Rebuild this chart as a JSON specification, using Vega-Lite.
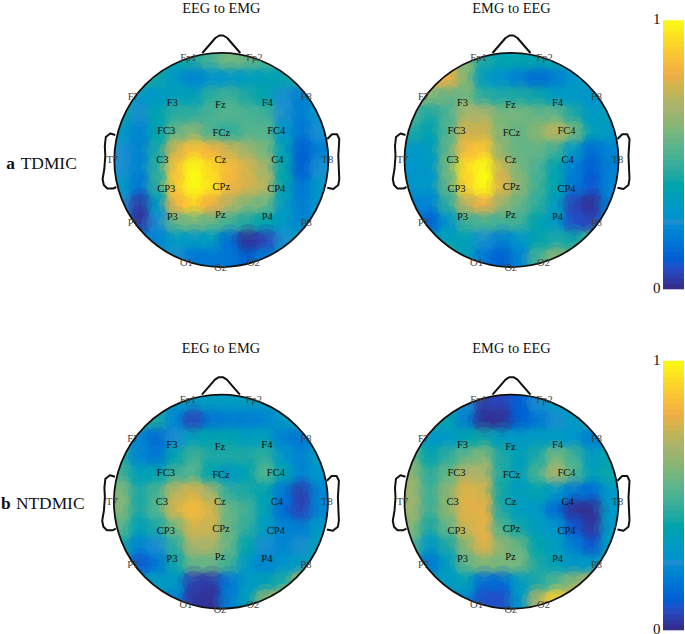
{"$schema":"https://vega.github.io/schema/vega-lite/v6.json","padding":0,"background":"white","config":{"view":{"stroke":null}},"columns":3,"bounds":"flush","spacing":{"row":40,"column":31.5},
"datasets":{
"a1":[{"x":-63,"y":99,"v":0.4},{"x":-45,"y":99,"v":0.38},{"x":-27,"y":99,"v":0.42},{"x":-9,"y":99,"v":0.5},{"x":9,"y":99,"v":0.58},{"x":27,"y":99,"v":0.55},{"x":45,"y":99,"v":0.5},{"x":63,"y":99,"v":0.5},
{"x":-81,"y":81,"v":0.45},{"x":-63,"y":81,"v":0.4},{"x":-45,"y":81,"v":0.3},{"x":-27,"y":81,"v":0.22},{"x":-9,"y":81,"v":0.27},{"x":9,"y":81,"v":0.3},{"x":27,"y":81,"v":0.33},{"x":45,"y":81,"v":0.35},{"x":63,"y":81,"v":0.38},{"x":81,"y":81,"v":0.45},
{"x":-99,"y":63,"v":0.45},{"x":-81,"y":63,"v":0.3},{"x":-63,"y":63,"v":0.3},{"x":-45,"y":63,"v":0.35},{"x":-27,"y":63,"v":0.35},{"x":-9,"y":63,"v":0.45},{"x":9,"y":63,"v":0.48},{"x":27,"y":63,"v":0.42},{"x":45,"y":63,"v":0.38},{"x":63,"y":63,"v":0.25},{"x":81,"y":63,"v":0.2},{"x":99,"y":63,"v":0.35},
{"x":-99,"y":45,"v":0.38},{"x":-81,"y":45,"v":0.25},{"x":-63,"y":45,"v":0.38},{"x":-45,"y":45,"v":0.45},{"x":-27,"y":45,"v":0.45},{"x":-9,"y":45,"v":0.5},{"x":9,"y":45,"v":0.52},{"x":27,"y":45,"v":0.5},{"x":45,"y":45,"v":0.48},{"x":63,"y":45,"v":0.25},{"x":81,"y":45,"v":0.2},{"x":99,"y":45,"v":0.3},
{"x":-99,"y":27,"v":0.3},{"x":-81,"y":27,"v":0.22},{"x":-63,"y":27,"v":0.38},{"x":-45,"y":27,"v":0.55},{"x":-27,"y":27,"v":0.62},{"x":-9,"y":27,"v":0.5},{"x":9,"y":27,"v":0.45},{"x":27,"y":27,"v":0.52},{"x":45,"y":27,"v":0.52},{"x":63,"y":27,"v":0.3},{"x":81,"y":27,"v":0.18},{"x":99,"y":27,"v":0.25},
{"x":-99,"y":9,"v":0.25},{"x":-81,"y":9,"v":0.22},{"x":-63,"y":9,"v":0.42},{"x":-45,"y":9,"v":0.76},{"x":-27,"y":9,"v":0.86},{"x":-9,"y":9,"v":0.82},{"x":9,"y":9,"v":0.74},{"x":27,"y":9,"v":0.66},{"x":45,"y":9,"v":0.58},{"x":63,"y":9,"v":0.35},{"x":81,"y":9,"v":0.12},{"x":99,"y":9,"v":0.2},
{"x":-99,"y":-9,"v":0.25},{"x":-81,"y":-9,"v":0.22},{"x":-63,"y":-9,"v":0.45},{"x":-45,"y":-9,"v":0.86},{"x":-27,"y":-9,"v":1},{"x":-9,"y":-9,"v":0.92},{"x":9,"y":-9,"v":0.84},{"x":27,"y":-9,"v":0.76},{"x":45,"y":-9,"v":0.66},{"x":63,"y":-9,"v":0.38},{"x":81,"y":-9,"v":0.12},{"x":99,"y":-9,"v":0.25},
{"x":-99,"y":-27,"v":0.3},{"x":-81,"y":-27,"v":0.18},{"x":-63,"y":-27,"v":0.45},{"x":-45,"y":-27,"v":0.88},{"x":-27,"y":-27,"v":1},{"x":-9,"y":-27,"v":0.94},{"x":9,"y":-27,"v":0.82},{"x":27,"y":-27,"v":0.76},{"x":45,"y":-27,"v":0.7},{"x":63,"y":-27,"v":0.38},{"x":81,"y":-27,"v":0.18},{"x":99,"y":-27,"v":0.3},
{"x":-99,"y":-45,"v":0.25},{"x":-81,"y":-45,"v":0.04},{"x":-63,"y":-45,"v":0.32},{"x":-45,"y":-45,"v":0.82},{"x":-27,"y":-45,"v":0.9},{"x":-9,"y":-45,"v":0.8},{"x":9,"y":-45,"v":0.7},{"x":27,"y":-45,"v":0.6},{"x":45,"y":-45,"v":0.56},{"x":63,"y":-45,"v":0.32},{"x":81,"y":-45,"v":0.2},{"x":99,"y":-45,"v":0.28},
{"x":-99,"y":-63,"v":0.15},{"x":-81,"y":-63,"v":0.03},{"x":-63,"y":-63,"v":0.25},{"x":-45,"y":-63,"v":0.55},{"x":-27,"y":-63,"v":0.58},{"x":-9,"y":-63,"v":0.55},{"x":9,"y":-63,"v":0.48},{"x":27,"y":-63,"v":0.42},{"x":45,"y":-63,"v":0.38},{"x":63,"y":-63,"v":0.3},{"x":81,"y":-63,"v":0.22},{"x":99,"y":-63,"v":0.3},
{"x":-81,"y":-81,"v":0.22},{"x":-63,"y":-81,"v":0.22},{"x":-45,"y":-81,"v":0.32},{"x":-27,"y":-81,"v":0.3},{"x":-9,"y":-81,"v":0.32},{"x":9,"y":-81,"v":0.15},{"x":27,"y":-81,"v":0.02},{"x":45,"y":-81,"v":0.06},{"x":63,"y":-81,"v":0.25},{"x":81,"y":-81,"v":0.35},
{"x":-63,"y":-99,"v":0.3},{"x":-45,"y":-99,"v":0.25},{"x":-27,"y":-99,"v":0.18},{"x":-9,"y":-99,"v":0.18},{"x":9,"y":-99,"v":0.18},{"x":27,"y":-99,"v":0.12},{"x":45,"y":-99,"v":0.2},{"x":63,"y":-99,"v":0.3}],
"a2":[{"x":-63,"y":99,"v":0.78},{"x":-45,"y":99,"v":0.6},{"x":-27,"y":99,"v":0.42},{"x":-9,"y":99,"v":0.38},{"x":9,"y":99,"v":0.38},{"x":27,"y":99,"v":0.38},{"x":45,"y":99,"v":0.38},{"x":63,"y":99,"v":0.4},
{"x":-81,"y":81,"v":0.8},{"x":-63,"y":81,"v":0.8},{"x":-45,"y":81,"v":0.6},{"x":-27,"y":81,"v":0.32},{"x":-9,"y":81,"v":0.27},{"x":9,"y":81,"v":0.2},{"x":27,"y":81,"v":0.15},{"x":45,"y":81,"v":0.2},{"x":63,"y":81,"v":0.28},{"x":81,"y":81,"v":0.35},
{"x":-99,"y":63,"v":0.65},{"x":-81,"y":63,"v":0.6},{"x":-63,"y":63,"v":0.55},{"x":-45,"y":63,"v":0.58},{"x":-27,"y":63,"v":0.45},{"x":-9,"y":63,"v":0.42},{"x":9,"y":63,"v":0.42},{"x":27,"y":63,"v":0.4},{"x":45,"y":63,"v":0.32},{"x":63,"y":63,"v":0.3},{"x":81,"y":63,"v":0.28},{"x":99,"y":63,"v":0.3},
{"x":-99,"y":45,"v":0.5},{"x":-81,"y":45,"v":0.42},{"x":-63,"y":45,"v":0.5},{"x":-45,"y":45,"v":0.68},{"x":-27,"y":45,"v":0.68},{"x":-9,"y":45,"v":0.58},{"x":9,"y":45,"v":0.58},{"x":27,"y":45,"v":0.55},{"x":45,"y":45,"v":0.55},{"x":63,"y":45,"v":0.42},{"x":81,"y":45,"v":0.3},{"x":99,"y":45,"v":0.35},
{"x":-99,"y":27,"v":0.42},{"x":-81,"y":27,"v":0.38},{"x":-63,"y":27,"v":0.52},{"x":-45,"y":27,"v":0.75},{"x":-27,"y":27,"v":0.75},{"x":-9,"y":27,"v":0.6},{"x":9,"y":27,"v":0.55},{"x":27,"y":27,"v":0.62},{"x":45,"y":27,"v":0.72},{"x":63,"y":27,"v":0.6},{"x":81,"y":27,"v":0.35},{"x":99,"y":27,"v":0.3},
{"x":-99,"y":9,"v":0.3},{"x":-81,"y":9,"v":0.32},{"x":-63,"y":9,"v":0.55},{"x":-45,"y":9,"v":0.84},{"x":-27,"y":9,"v":0.88},{"x":-9,"y":9,"v":0.62},{"x":9,"y":9,"v":0.55},{"x":27,"y":9,"v":0.55},{"x":45,"y":9,"v":0.48},{"x":63,"y":9,"v":0.3},{"x":81,"y":9,"v":0.15},{"x":99,"y":9,"v":0.22},
{"x":-99,"y":-9,"v":0.28},{"x":-81,"y":-9,"v":0.3},{"x":-63,"y":-9,"v":0.58},{"x":-45,"y":-9,"v":0.93},{"x":-27,"y":-9,"v":1},{"x":-9,"y":-9,"v":0.74},{"x":9,"y":-9,"v":0.58},{"x":27,"y":-9,"v":0.5},{"x":45,"y":-9,"v":0.38},{"x":63,"y":-9,"v":0.2},{"x":81,"y":-9,"v":0.12},{"x":99,"y":-9,"v":0.2},
{"x":-99,"y":-27,"v":0.28},{"x":-81,"y":-27,"v":0.3},{"x":-63,"y":-27,"v":0.55},{"x":-45,"y":-27,"v":0.9},{"x":-27,"y":-27,"v":1},{"x":-9,"y":-27,"v":0.77},{"x":9,"y":-27,"v":0.62},{"x":27,"y":-27,"v":0.48},{"x":45,"y":-27,"v":0.38},{"x":63,"y":-27,"v":0.18},{"x":81,"y":-27,"v":0.1},{"x":99,"y":-27,"v":0.22},
{"x":-99,"y":-45,"v":0.22},{"x":-81,"y":-45,"v":0.22},{"x":-63,"y":-45,"v":0.45},{"x":-45,"y":-45,"v":0.72},{"x":-27,"y":-45,"v":0.8},{"x":-9,"y":-45,"v":0.65},{"x":9,"y":-45,"v":0.55},{"x":27,"y":-45,"v":0.45},{"x":45,"y":-45,"v":0.32},{"x":63,"y":-45,"v":0.06},{"x":81,"y":-45,"v":0.02},{"x":99,"y":-45,"v":0.2},
{"x":-99,"y":-63,"v":0.2},{"x":-81,"y":-63,"v":0.12},{"x":-63,"y":-63,"v":0.28},{"x":-45,"y":-63,"v":0.48},{"x":-27,"y":-63,"v":0.5},{"x":-9,"y":-63,"v":0.48},{"x":9,"y":-63,"v":0.48},{"x":27,"y":-63,"v":0.38},{"x":45,"y":-63,"v":0.3},{"x":63,"y":-63,"v":0.08},{"x":81,"y":-63,"v":0.06},{"x":99,"y":-63,"v":0.25},
{"x":-81,"y":-81,"v":0.3},{"x":-63,"y":-81,"v":0.35},{"x":-45,"y":-81,"v":0.35},{"x":-27,"y":-81,"v":0.25},{"x":-9,"y":-81,"v":0.2},{"x":9,"y":-81,"v":0.28},{"x":27,"y":-81,"v":0.38},{"x":45,"y":-81,"v":0.42},{"x":63,"y":-81,"v":0.4},{"x":81,"y":-81,"v":0.5},
{"x":-63,"y":-99,"v":0.45},{"x":-45,"y":-99,"v":0.35},{"x":-27,"y":-99,"v":0.18},{"x":-9,"y":-99,"v":0.12},{"x":9,"y":-99,"v":0.22},{"x":27,"y":-99,"v":0.5},{"x":45,"y":-99,"v":0.62},{"x":63,"y":-99,"v":0.6}],
"b1":[{"x":-63,"y":99,"v":0.35},{"x":-45,"y":99,"v":0.28},{"x":-27,"y":99,"v":0.3},{"x":-9,"y":99,"v":0.32},{"x":9,"y":99,"v":0.32},{"x":27,"y":99,"v":0.32},{"x":45,"y":99,"v":0.3},{"x":63,"y":99,"v":0.45},
{"x":-81,"y":81,"v":0.42},{"x":-63,"y":81,"v":0.42},{"x":-45,"y":81,"v":0.22},{"x":-27,"y":81,"v":0.06},{"x":-9,"y":81,"v":0.18},{"x":9,"y":81,"v":0.2},{"x":27,"y":81,"v":0.2},{"x":45,"y":81,"v":0.22},{"x":63,"y":81,"v":0.3},{"x":81,"y":81,"v":0.42},
{"x":-99,"y":63,"v":0.42},{"x":-81,"y":63,"v":0.22},{"x":-63,"y":63,"v":0.15},{"x":-45,"y":63,"v":0.25},{"x":-27,"y":63,"v":0.35},{"x":-9,"y":63,"v":0.38},{"x":9,"y":63,"v":0.38},{"x":27,"y":63,"v":0.33},{"x":45,"y":63,"v":0.35},{"x":63,"y":63,"v":0.2},{"x":81,"y":63,"v":0.18},{"x":99,"y":63,"v":0.35},
{"x":-99,"y":45,"v":0.42},{"x":-81,"y":45,"v":0.22},{"x":-63,"y":45,"v":0.18},{"x":-45,"y":45,"v":0.38},{"x":-27,"y":45,"v":0.48},{"x":-9,"y":45,"v":0.42},{"x":9,"y":45,"v":0.42},{"x":27,"y":45,"v":0.42},{"x":45,"y":45,"v":0.45},{"x":63,"y":45,"v":0.28},{"x":81,"y":45,"v":0.22},{"x":99,"y":45,"v":0.32},
{"x":-99,"y":27,"v":0.48},{"x":-81,"y":27,"v":0.35},{"x":-63,"y":27,"v":0.38},{"x":-45,"y":27,"v":0.48},{"x":-27,"y":27,"v":0.52},{"x":-9,"y":27,"v":0.38},{"x":9,"y":27,"v":0.3},{"x":27,"y":27,"v":0.38},{"x":45,"y":27,"v":0.52},{"x":63,"y":27,"v":0.38},{"x":81,"y":27,"v":0.22},{"x":99,"y":27,"v":0.28},
{"x":-99,"y":9,"v":0.6},{"x":-81,"y":9,"v":0.42},{"x":-63,"y":9,"v":0.5},{"x":-45,"y":9,"v":0.72},{"x":-27,"y":9,"v":0.76},{"x":-9,"y":9,"v":0.66},{"x":9,"y":9,"v":0.45},{"x":27,"y":9,"v":0.42},{"x":45,"y":9,"v":0.38},{"x":63,"y":9,"v":0.18},{"x":81,"y":9,"v":0.05},{"x":99,"y":9,"v":0.22},
{"x":-99,"y":-9,"v":0.6},{"x":-81,"y":-9,"v":0.42},{"x":-63,"y":-9,"v":0.52},{"x":-45,"y":-9,"v":0.76},{"x":-27,"y":-9,"v":0.84},{"x":-9,"y":-9,"v":0.76},{"x":9,"y":-9,"v":0.55},{"x":27,"y":-9,"v":0.48},{"x":45,"y":-9,"v":0.35},{"x":63,"y":-9,"v":0.15},{"x":81,"y":-9,"v":0.06},{"x":99,"y":-9,"v":0.22},
{"x":-99,"y":-27,"v":0.52},{"x":-81,"y":-27,"v":0.35},{"x":-63,"y":-27,"v":0.42},{"x":-45,"y":-27,"v":0.58},{"x":-27,"y":-27,"v":0.76},{"x":-9,"y":-27,"v":0.74},{"x":9,"y":-27,"v":0.55},{"x":27,"y":-27,"v":0.45},{"x":45,"y":-27,"v":0.32},{"x":63,"y":-27,"v":0.22},{"x":81,"y":-27,"v":0.2},{"x":99,"y":-27,"v":0.3},
{"x":-99,"y":-45,"v":0.4},{"x":-81,"y":-45,"v":0.22},{"x":-63,"y":-45,"v":0.25},{"x":-45,"y":-45,"v":0.45},{"x":-27,"y":-45,"v":0.68},{"x":-9,"y":-45,"v":0.68},{"x":9,"y":-45,"v":0.55},{"x":27,"y":-45,"v":0.38},{"x":45,"y":-45,"v":0.25},{"x":63,"y":-45,"v":0.22},{"x":81,"y":-45,"v":0.25},{"x":99,"y":-45,"v":0.35},
{"x":-99,"y":-63,"v":0.3},{"x":-81,"y":-63,"v":0.1},{"x":-63,"y":-63,"v":0.18},{"x":-45,"y":-63,"v":0.4},{"x":-27,"y":-63,"v":0.55},{"x":-9,"y":-63,"v":0.55},{"x":9,"y":-63,"v":0.48},{"x":27,"y":-63,"v":0.3},{"x":45,"y":-63,"v":0.22},{"x":63,"y":-63,"v":0.28},{"x":81,"y":-63,"v":0.32},{"x":99,"y":-63,"v":0.42},
{"x":-81,"y":-81,"v":0.3},{"x":-63,"y":-81,"v":0.32},{"x":-45,"y":-81,"v":0.3},{"x":-27,"y":-81,"v":0.05},{"x":-9,"y":-81,"v":0.04},{"x":9,"y":-81,"v":0.18},{"x":27,"y":-81,"v":0.3},{"x":45,"y":-81,"v":0.35},{"x":63,"y":-81,"v":0.42},{"x":81,"y":-81,"v":0.7},
{"x":-63,"y":-99,"v":0.32},{"x":-45,"y":-99,"v":0.2},{"x":-27,"y":-99,"v":0.03},{"x":-9,"y":-99,"v":0.02},{"x":9,"y":-99,"v":0.2},{"x":27,"y":-99,"v":0.35},{"x":45,"y":-99,"v":0.62},{"x":63,"y":-99,"v":0.85}],
"b2":[{"x":-63,"y":99,"v":0.35},{"x":-45,"y":99,"v":0.25},{"x":-27,"y":99,"v":0.05},{"x":-9,"y":99,"v":0.06},{"x":9,"y":99,"v":0.12},{"x":27,"y":99,"v":0.25},{"x":45,"y":99,"v":0.32},{"x":63,"y":99,"v":0.4},
{"x":-81,"y":81,"v":0.42},{"x":-63,"y":81,"v":0.38},{"x":-45,"y":81,"v":0.2},{"x":-27,"y":81,"v":0.02},{"x":-9,"y":81,"v":0.02},{"x":9,"y":81,"v":0.12},{"x":27,"y":81,"v":0.18},{"x":45,"y":81,"v":0.25},{"x":63,"y":81,"v":0.3},{"x":81,"y":81,"v":0.42},
{"x":-99,"y":63,"v":0.45},{"x":-81,"y":63,"v":0.3},{"x":-63,"y":63,"v":0.3},{"x":-45,"y":63,"v":0.38},{"x":-27,"y":63,"v":0.4},{"x":-9,"y":63,"v":0.32},{"x":9,"y":63,"v":0.3},{"x":27,"y":63,"v":0.32},{"x":45,"y":63,"v":0.32},{"x":63,"y":63,"v":0.28},{"x":81,"y":63,"v":0.2},{"x":99,"y":63,"v":0.3},
{"x":-99,"y":45,"v":0.55},{"x":-81,"y":45,"v":0.38},{"x":-63,"y":45,"v":0.45},{"x":-45,"y":45,"v":0.55},{"x":-27,"y":45,"v":0.6},{"x":-9,"y":45,"v":0.42},{"x":9,"y":45,"v":0.35},{"x":27,"y":45,"v":0.42},{"x":45,"y":45,"v":0.58},{"x":63,"y":45,"v":0.48},{"x":81,"y":45,"v":0.32},{"x":99,"y":45,"v":0.38},
{"x":-99,"y":27,"v":0.62},{"x":-81,"y":27,"v":0.45},{"x":-63,"y":27,"v":0.55},{"x":-45,"y":27,"v":0.7},{"x":-27,"y":27,"v":0.68},{"x":-9,"y":27,"v":0.42},{"x":9,"y":27,"v":0.35},{"x":27,"y":27,"v":0.5},{"x":45,"y":27,"v":0.68},{"x":63,"y":27,"v":0.52},{"x":81,"y":27,"v":0.35},{"x":99,"y":27,"v":0.4},
{"x":-99,"y":9,"v":0.65},{"x":-81,"y":9,"v":0.48},{"x":-63,"y":9,"v":0.62},{"x":-45,"y":9,"v":0.78},{"x":-27,"y":9,"v":0.75},{"x":-9,"y":9,"v":0.4},{"x":9,"y":9,"v":0.33},{"x":27,"y":9,"v":0.38},{"x":45,"y":9,"v":0.3},{"x":63,"y":9,"v":0.18},{"x":81,"y":9,"v":0.15},{"x":99,"y":9,"v":0.3},
{"x":-99,"y":-9,"v":0.65},{"x":-81,"y":-9,"v":0.48},{"x":-63,"y":-9,"v":0.62},{"x":-45,"y":-9,"v":0.78},{"x":-27,"y":-9,"v":0.78},{"x":-9,"y":-9,"v":0.42},{"x":9,"y":-9,"v":0.33},{"x":27,"y":-9,"v":0.3},{"x":45,"y":-9,"v":0.15},{"x":63,"y":-9,"v":0.02},{"x":81,"y":-9,"v":0.02},{"x":99,"y":-9,"v":0.3},
{"x":-99,"y":-27,"v":0.6},{"x":-81,"y":-27,"v":0.42},{"x":-63,"y":-27,"v":0.55},{"x":-45,"y":-27,"v":0.75},{"x":-27,"y":-27,"v":0.78},{"x":-9,"y":-27,"v":0.5},{"x":9,"y":-27,"v":0.4},{"x":27,"y":-27,"v":0.33},{"x":45,"y":-27,"v":0.28},{"x":63,"y":-27,"v":0.1},{"x":81,"y":-27,"v":0.03},{"x":99,"y":-27,"v":0.3},
{"x":-99,"y":-45,"v":0.5},{"x":-81,"y":-45,"v":0.3},{"x":-63,"y":-45,"v":0.42},{"x":-45,"y":-45,"v":0.62},{"x":-27,"y":-45,"v":0.78},{"x":-9,"y":-45,"v":0.62},{"x":9,"y":-45,"v":0.55},{"x":27,"y":-45,"v":0.38},{"x":45,"y":-45,"v":0.33},{"x":63,"y":-45,"v":0.2},{"x":81,"y":-45,"v":0.1},{"x":99,"y":-45,"v":0.33},
{"x":-99,"y":-63,"v":0.4},{"x":-81,"y":-63,"v":0.18},{"x":-63,"y":-63,"v":0.32},{"x":-45,"y":-63,"v":0.55},{"x":-27,"y":-63,"v":0.6},{"x":-9,"y":-63,"v":0.58},{"x":9,"y":-63,"v":0.58},{"x":27,"y":-63,"v":0.42},{"x":45,"y":-63,"v":0.35},{"x":63,"y":-63,"v":0.3},{"x":81,"y":-63,"v":0.3},{"x":99,"y":-63,"v":0.42},
{"x":-81,"y":-81,"v":0.32},{"x":-63,"y":-81,"v":0.32},{"x":-45,"y":-81,"v":0.35},{"x":-27,"y":-81,"v":0.15},{"x":-9,"y":-81,"v":0.15},{"x":9,"y":-81,"v":0.32},{"x":27,"y":-81,"v":0.42},{"x":45,"y":-81,"v":0.52},{"x":63,"y":-81,"v":0.62},{"x":81,"y":-81,"v":0.7},
{"x":-63,"y":-99,"v":0.3},{"x":-45,"y":-99,"v":0.22},{"x":-27,"y":-99,"v":0.08},{"x":-9,"y":-99,"v":0.08},{"x":9,"y":-99,"v":0.3},{"x":27,"y":-99,"v":0.7},{"x":45,"y":-99,"v":0.9},{"x":63,"y":-99,"v":0.8}],
"inner":[{"x":-49,"y":57,"t":"F3"},{"x":-1,"y":55,"t":"Fz"},{"x":46,"y":57,"t":"F4"},{"x":-55,"y":29,"t":"FC3"},{"x":0,"y":27,"t":"FCz"},{"x":55,"y":29,"t":"FC4"},{"x":-59,"y":0,"t":"C3"},{"x":-1,"y":0,"t":"Cz"},{"x":56,"y":0,"t":"C4"},{"x":-55,"y":-29,"t":"CP3"},{"x":0,"y":-27,"t":"CPz"},{"x":55,"y":-29,"t":"CP4"},{"x":-49,"y":-57,"t":"P3"},{"x":-1,"y":-55,"t":"Pz"},{"x":46,"y":-57,"t":"P4"}],
"outer":[{"x":-33,"y":102,"t":"Fp1"},{"x":33,"y":102,"t":"Fp2"},{"x":-88,"y":63,"t":"F7"},{"x":85,"y":63,"t":"F8"},{"x":-109,"y":0,"t":"T7"},{"x":106,"y":0,"t":"T8"},{"x":-88,"y":-63,"t":"P7"},{"x":85,"y":-63,"t":"P8"},{"x":-35,"y":-103,"t":"O1"},{"x":-1,"y":-108,"t":"Oz"},{"x":32,"y":-103,"t":"O2"}],
"head":[{"part":"nose","o":1,"x":-19,"y":107},{"part":"nose","o":2,"x":-12,"y":115},{"part":"nose","o":3,"x":-6,"y":122},{"part":"nose","o":4,"x":-2,"y":124.5},{"part":"nose","o":5,"x":2,"y":124.5},{"part":"nose","o":6,"x":6,"y":122},{"part":"nose","o":7,"x":12,"y":115},{"part":"nose","o":8,"x":19,"y":107},
{"part":"left","o":1,"x":-106,"y":25},{"part":"left","o":2,"x":-111,"y":26.5},{"part":"left","o":3,"x":-115.5,"y":23},{"part":"left","o":4,"x":-116.5,"y":14},{"part":"left","o":5,"x":-116,"y":4},{"part":"left","o":6,"x":-117,"y":-9},{"part":"left","o":7,"x":-118.7,"y":-19},{"part":"left","o":8,"x":-117.5,"y":-25},{"part":"left","o":9,"x":-114,"y":-28.5},{"part":"left","o":10,"x":-108,"y":-28.5},{"part":"left","o":11,"x":-105,"y":-27},
{"part":"right","o":1,"x":106,"y":21},{"part":"right","o":2,"x":110.7,"y":25.7},{"part":"right","o":3,"x":115.7,"y":25.7},{"part":"right","o":4,"x":118,"y":21},{"part":"right","o":5,"x":117.5,"y":12},{"part":"right","o":6,"x":117,"y":4.7},{"part":"right","o":7,"x":117.5,"y":-8},{"part":"right","o":8,"x":118,"y":-18.7},{"part":"right","o":9,"x":117,"y":-25},{"part":"right","o":10,"x":112,"y":-29},{"part":"right","o":11,"x":106,"y":-27.7}],
"centre":[{"x":0,"y":0}],
"bar":[{"a":0,"b":0.024,"v":0.01},{"a":0.02,"b":0.044,"v":0.03},{"a":0.04,"b":0.064,"v":0.05},{"a":0.06,"b":0.084,"v":0.07},{"a":0.08,"b":0.104,"v":0.09},{"a":0.1,"b":0.124,"v":0.11},{"a":0.12,"b":0.144,"v":0.13},{"a":0.14,"b":0.164,"v":0.15},{"a":0.16,"b":0.184,"v":0.17},{"a":0.18,"b":0.204,"v":0.19},{"a":0.2,"b":0.224,"v":0.21},{"a":0.22,"b":0.244,"v":0.23},{"a":0.24,"b":0.264,"v":0.25},{"a":0.26,"b":0.284,"v":0.27},{"a":0.28,"b":0.304,"v":0.29},{"a":0.3,"b":0.324,"v":0.31},{"a":0.32,"b":0.344,"v":0.33},{"a":0.34,"b":0.364,"v":0.35},{"a":0.36,"b":0.384,"v":0.37},{"a":0.38,"b":0.404,"v":0.39},{"a":0.4,"b":0.424,"v":0.41},{"a":0.42,"b":0.444,"v":0.43},{"a":0.44,"b":0.464,"v":0.45},{"a":0.46,"b":0.484,"v":0.47},{"a":0.48,"b":0.504,"v":0.49},{"a":0.5,"b":0.524,"v":0.51},{"a":0.52,"b":0.544,"v":0.53},{"a":0.54,"b":0.564,"v":0.55},{"a":0.56,"b":0.584,"v":0.57},{"a":0.58,"b":0.604,"v":0.59},{"a":0.6,"b":0.624,"v":0.61},{"a":0.62,"b":0.644,"v":0.63},{"a":0.64,"b":0.664,"v":0.65},{"a":0.66,"b":0.684,"v":0.67},{"a":0.68,"b":0.704,"v":0.69},{"a":0.7,"b":0.724,"v":0.71},{"a":0.72,"b":0.744,"v":0.73},{"a":0.74,"b":0.764,"v":0.75},{"a":0.76,"b":0.784,"v":0.77},{"a":0.78,"b":0.804,"v":0.79},{"a":0.8,"b":0.824,"v":0.81},{"a":0.82,"b":0.844,"v":0.83},{"a":0.84,"b":0.864,"v":0.85},{"a":0.86,"b":0.884,"v":0.87},{"a":0.88,"b":0.904,"v":0.89},{"a":0.9,"b":0.924,"v":0.91},{"a":0.92,"b":0.944,"v":0.93},{"a":0.94,"b":0.964,"v":0.95},{"a":0.96,"b":0.984,"v":0.97},{"a":0.98,"b":1,"v":0.99}]
},
"concat":[
{"width":354.7,"height":300,"encoding":{"x":{"field":"x","type":"quantitative","axis":null,"scale":{"domain":[-221.3,133.4],"nice":false,"zero":false}},"y":{"field":"y","type":"quantitative","axis":null,"scale":{"domain":[-142,158],"nice":false,"zero":false}}},
"layer":[
{"data":{"name":"a1"},"mark":{"type":"rect","width":18.6,"height":18.6},"encoding":{"color":{"field":"v","type":"quantitative","legend":null,"scale":{"domain":[0,0.04,0.09,0.25,0.4,0.53,0.68,0.8,0.9,1],"range":["#352A87","#2E3CA8","#1A55D0","#1C8FD0","#0FA5A8","#5AB58C","#A9B36C","#F0AE45","#FCD02A","#F9FB15"]}}}},
{"data":{"name":"a1"},"mark":{"type":"circle","size":1156,"opacity":0.4},"encoding":{"color":{"field":"v","type":"quantitative","legend":null,"scale":{"domain":[0,0.04,0.09,0.25,0.4,0.53,0.68,0.8,0.9,1],"range":["#352A87","#2E3CA8","#1A55D0","#1C8FD0","#0FA5A8","#5AB58C","#A9B36C","#F0AE45","#FCD02A","#F9FB15"]}}}},
{"data":{"name":"a1"},"mark":{"type":"circle","size":576,"opacity":0.4},"encoding":{"color":{"field":"v","type":"quantitative","legend":null,"scale":{"domain":[0,0.04,0.09,0.25,0.4,0.53,0.68,0.8,0.9,1],"range":["#352A87","#2E3CA8","#1A55D0","#1C8FD0","#0FA5A8","#5AB58C","#A9B36C","#F0AE45","#FCD02A","#F9FB15"]}}}},
{"data":{"name":"centre"},"mark":{"type":"point","clip":true,"size":59536,"filled":false,"stroke":"white","strokeWidth":30,"opacity":1}},
{"data":{"name":"centre"},"mark":{"type":"point","clip":true,"size":45796,"filled":false,"stroke":"#111","strokeWidth":1.8,"opacity":1}},
{"data":{"name":"head"},"mark":{"type":"line","stroke":"#111","strokeWidth":2,"strokeJoin":"round"},"encoding":{"detail":{"field":"part"},"order":{"field":"o","type":"ordinal"}}},
{"data":{"name":"inner"},"mark":{"type":"text","font":"Liberation Serif","fontSize":10.5,"fill":"#111"},"encoding":{"text":{"field":"t"}}},
{"data":{"name":"outer"},"mark":{"type":"text","font":"Liberation Serif","fontSize":10.5,"fill":"#444"},"encoding":{"text":{"field":"t"}}},
{"data":{"values":[{"x":0,"y":151,"t":"EEG to EMG"}]},"mark":{"type":"text","font":"Liberation Serif","fontSize":14.4,"fill":"#111"},"encoding":{"text":{"field":"t"}}},
{"data":{"values":[{"x":-200.6,"y":-3.7,"t":"TDMIC"}]},"mark":{"type":"text","align":"left","font":"Liberation Serif","fontSize":17.4,"fill":"#111"},"encoding":{"text":{"field":"t"}}},
{"data":{"values":[{"x":-215,"y":-3.7,"t":"a"}]},"mark":{"type":"text","align":"left","font":"Liberation Serif","fontSize":17.4,"fontWeight":"bold","fill":"#111"},"encoding":{"text":{"field":"t"}}}
]},
{"width":245,"height":300,"encoding":{"x":{"field":"x","type":"quantitative","axis":null,"scale":{"domain":[-125,120],"nice":false,"zero":false}},"y":{"field":"y","type":"quantitative","axis":null,"scale":{"domain":[-142,158],"nice":false,"zero":false}}},
"layer":[
{"data":{"name":"a2"},"mark":{"type":"rect","width":18.6,"height":18.6},"encoding":{"color":{"field":"v","type":"quantitative","legend":null,"scale":{"domain":[0,0.04,0.09,0.25,0.4,0.53,0.68,0.8,0.9,1],"range":["#352A87","#2E3CA8","#1A55D0","#1C8FD0","#0FA5A8","#5AB58C","#A9B36C","#F0AE45","#FCD02A","#F9FB15"]}}}},
{"data":{"name":"a2"},"mark":{"type":"circle","size":1156,"opacity":0.4},"encoding":{"color":{"field":"v","type":"quantitative","legend":null,"scale":{"domain":[0,0.04,0.09,0.25,0.4,0.53,0.68,0.8,0.9,1],"range":["#352A87","#2E3CA8","#1A55D0","#1C8FD0","#0FA5A8","#5AB58C","#A9B36C","#F0AE45","#FCD02A","#F9FB15"]}}}},
{"data":{"name":"a2"},"mark":{"type":"circle","size":576,"opacity":0.4},"encoding":{"color":{"field":"v","type":"quantitative","legend":null,"scale":{"domain":[0,0.04,0.09,0.25,0.4,0.53,0.68,0.8,0.9,1],"range":["#352A87","#2E3CA8","#1A55D0","#1C8FD0","#0FA5A8","#5AB58C","#A9B36C","#F0AE45","#FCD02A","#F9FB15"]}}}},
{"data":{"name":"centre"},"mark":{"type":"point","clip":true,"size":59536,"filled":false,"stroke":"white","strokeWidth":30,"opacity":1}},
{"data":{"name":"centre"},"mark":{"type":"point","clip":true,"size":45796,"filled":false,"stroke":"#111","strokeWidth":1.8,"opacity":1}},
{"data":{"name":"head"},"mark":{"type":"line","stroke":"#111","strokeWidth":2,"strokeJoin":"round"},"encoding":{"detail":{"field":"part"},"order":{"field":"o","type":"ordinal"}}},
{"data":{"name":"inner"},"mark":{"type":"text","font":"Liberation Serif","fontSize":10.5,"fill":"#111"},"encoding":{"text":{"field":"t"}}},
{"data":{"name":"outer"},"mark":{"type":"text","font":"Liberation Serif","fontSize":10.5,"fill":"#444"},"encoding":{"text":{"field":"t"}}},
{"data":{"values":[{"x":0,"y":151,"t":"EMG to EEG"}]},"mark":{"type":"text","font":"Liberation Serif","fontSize":14.4,"fill":"#111"},"encoding":{"text":{"field":"t"}}}
]},
{"width":21,"height":300,"data":{"name":"bar"},"mark":{"type":"rect","stroke":null},"encoding":{"y":{"field":"a","type":"quantitative","scale":{"domain":[-0.0472,1.068],"nice":false,"zero":false},"axis":{"values":[0,1],"format":".0f","title":null,"domain":false,"ticks":false,"grid":false,"labelFont":"Liberation Serif","labelFontSize":15,"labelColor":"#111","labelPadding":3,"labelOffset":-1.5}},"y2":{"field":"b"},"color":{"field":"v","type":"quantitative","legend":null,"scale":{"domain":[0,0.04,0.09,0.25,0.4,0.53,0.68,0.8,0.9,1],"range":["#352A87","#2E3CA8","#1A55D0","#1C8FD0","#0FA5A8","#5AB58C","#A9B36C","#F0AE45","#FCD02A","#F9FB15"]}}}},
{"width":354.7,"height":294,"encoding":{"x":{"field":"x","type":"quantitative","axis":null,"scale":{"domain":[-220.9,133.8],"nice":false,"zero":false}},"y":{"field":"y","type":"quantitative","axis":null,"scale":{"domain":[-134.3,159.7],"nice":false,"zero":false}}},
"layer":[
{"data":{"name":"b1"},"mark":{"type":"rect","width":18.6,"height":18.6},"encoding":{"color":{"field":"v","type":"quantitative","legend":null,"scale":{"domain":[0,0.04,0.09,0.25,0.4,0.53,0.68,0.8,0.9,1],"range":["#352A87","#2E3CA8","#1A55D0","#1C8FD0","#0FA5A8","#5AB58C","#A9B36C","#F0AE45","#FCD02A","#F9FB15"]}}}},
{"data":{"name":"b1"},"mark":{"type":"circle","size":1156,"opacity":0.4},"encoding":{"color":{"field":"v","type":"quantitative","legend":null,"scale":{"domain":[0,0.04,0.09,0.25,0.4,0.53,0.68,0.8,0.9,1],"range":["#352A87","#2E3CA8","#1A55D0","#1C8FD0","#0FA5A8","#5AB58C","#A9B36C","#F0AE45","#FCD02A","#F9FB15"]}}}},
{"data":{"name":"b1"},"mark":{"type":"circle","size":576,"opacity":0.4},"encoding":{"color":{"field":"v","type":"quantitative","legend":null,"scale":{"domain":[0,0.04,0.09,0.25,0.4,0.53,0.68,0.8,0.9,1],"range":["#352A87","#2E3CA8","#1A55D0","#1C8FD0","#0FA5A8","#5AB58C","#A9B36C","#F0AE45","#FCD02A","#F9FB15"]}}}},
{"data":{"name":"centre"},"mark":{"type":"point","clip":true,"size":59536,"filled":false,"stroke":"white","strokeWidth":30,"opacity":1}},
{"data":{"name":"centre"},"mark":{"type":"point","clip":true,"size":45796,"filled":false,"stroke":"#111","strokeWidth":1.8,"opacity":1}},
{"data":{"name":"head"},"mark":{"type":"line","stroke":"#111","strokeWidth":2,"strokeJoin":"round"},"encoding":{"detail":{"field":"part"},"order":{"field":"o","type":"ordinal"}}},
{"data":{"name":"inner"},"mark":{"type":"text","font":"Liberation Serif","fontSize":10.5,"fill":"#111"},"encoding":{"text":{"field":"t"}}},
{"data":{"name":"outer"},"mark":{"type":"text","font":"Liberation Serif","fontSize":10.5,"fill":"#444"},"encoding":{"text":{"field":"t"}}},
{"data":{"values":[{"x":0,"y":152.7,"t":"EEG to EMG"}]},"mark":{"type":"text","font":"Liberation Serif","fontSize":14.4,"fill":"#111"},"encoding":{"text":{"field":"t"}}},
{"data":{"values":[{"x":-205,"y":-2,"t":"NTDMIC"}]},"mark":{"type":"text","align":"left","font":"Liberation Serif","fontSize":17.4,"fill":"#111"},"encoding":{"text":{"field":"t"}}},
{"data":{"values":[{"x":-220,"y":-2,"t":"b"}]},"mark":{"type":"text","align":"left","font":"Liberation Serif","fontSize":17.4,"fontWeight":"bold","fill":"#111"},"encoding":{"text":{"field":"t"}}}
]},
{"width":245,"height":294,"encoding":{"x":{"field":"x","type":"quantitative","axis":null,"scale":{"domain":[-125,120],"nice":false,"zero":false}},"y":{"field":"y","type":"quantitative","axis":null,"scale":{"domain":[-134.3,159.7],"nice":false,"zero":false}}},
"layer":[
{"data":{"name":"b2"},"mark":{"type":"rect","width":18.6,"height":18.6},"encoding":{"color":{"field":"v","type":"quantitative","legend":null,"scale":{"domain":[0,0.04,0.09,0.25,0.4,0.53,0.68,0.8,0.9,1],"range":["#352A87","#2E3CA8","#1A55D0","#1C8FD0","#0FA5A8","#5AB58C","#A9B36C","#F0AE45","#FCD02A","#F9FB15"]}}}},
{"data":{"name":"b2"},"mark":{"type":"circle","size":1156,"opacity":0.4},"encoding":{"color":{"field":"v","type":"quantitative","legend":null,"scale":{"domain":[0,0.04,0.09,0.25,0.4,0.53,0.68,0.8,0.9,1],"range":["#352A87","#2E3CA8","#1A55D0","#1C8FD0","#0FA5A8","#5AB58C","#A9B36C","#F0AE45","#FCD02A","#F9FB15"]}}}},
{"data":{"name":"b2"},"mark":{"type":"circle","size":576,"opacity":0.4},"encoding":{"color":{"field":"v","type":"quantitative","legend":null,"scale":{"domain":[0,0.04,0.09,0.25,0.4,0.53,0.68,0.8,0.9,1],"range":["#352A87","#2E3CA8","#1A55D0","#1C8FD0","#0FA5A8","#5AB58C","#A9B36C","#F0AE45","#FCD02A","#F9FB15"]}}}},
{"data":{"name":"centre"},"mark":{"type":"point","clip":true,"size":59536,"filled":false,"stroke":"white","strokeWidth":30,"opacity":1}},
{"data":{"name":"centre"},"mark":{"type":"point","clip":true,"size":45796,"filled":false,"stroke":"#111","strokeWidth":1.8,"opacity":1}},
{"data":{"name":"head"},"mark":{"type":"line","stroke":"#111","strokeWidth":2,"strokeJoin":"round"},"encoding":{"detail":{"field":"part"},"order":{"field":"o","type":"ordinal"}}},
{"data":{"name":"inner"},"mark":{"type":"text","font":"Liberation Serif","fontSize":10.5,"fill":"#111"},"encoding":{"text":{"field":"t"}}},
{"data":{"name":"outer"},"mark":{"type":"text","font":"Liberation Serif","fontSize":10.5,"fill":"#444"},"encoding":{"text":{"field":"t"}}},
{"data":{"values":[{"x":0,"y":152.7,"t":"EMG to EEG"}]},"mark":{"type":"text","font":"Liberation Serif","fontSize":14.4,"fill":"#111"},"encoding":{"text":{"field":"t"}}}
]},
{"width":21,"height":294,"data":{"name":"bar"},"mark":{"type":"rect","stroke":null},"encoding":{"y":{"field":"a","type":"quantitative","scale":{"domain":[-0.0211,1.0694],"nice":false,"zero":false},"axis":{"values":[0,1],"format":".0f","title":null,"domain":false,"ticks":false,"grid":false,"labelFont":"Liberation Serif","labelFontSize":15,"labelColor":"#111","labelPadding":3,"labelOffset":-1.5}},"y2":{"field":"b"},"color":{"field":"v","type":"quantitative","legend":null,"scale":{"domain":[0,0.04,0.09,0.25,0.4,0.53,0.68,0.8,0.9,1],"range":["#352A87","#2E3CA8","#1A55D0","#1C8FD0","#0FA5A8","#5AB58C","#A9B36C","#F0AE45","#FCD02A","#F9FB15"]}}}}
]}
